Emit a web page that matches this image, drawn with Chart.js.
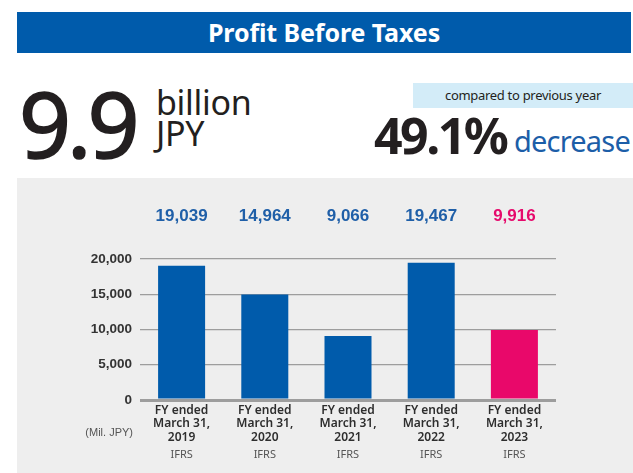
<!DOCTYPE html>
<html>
<head>
<meta charset="utf-8">
<script src="https://cdn.jsdelivr.net/npm/chart.js@4"></script>
<style>
  html, body { margin: 0; padding: 0; background: #ffffff; }
  body { width: 633px; height: 473px; position: relative; overflow: hidden; font-family: "Noto Sans", "Open Sans", sans-serif; }
  .banner { position: absolute; left: 17px; top: 12px; width: 614px; height: 41px; background: #005bab; color: #fff;
            font-weight: 700; font-size: 25px; line-height: 41px; text-align: center; letter-spacing: -0.1px; }
  .big { position: absolute; left: 19px; top: 58px; font-size: 91px; font-weight: 400; line-height: 130px; color: #231f20;
         letter-spacing: -4px; -webkit-text-stroke: 1.6px #231f20; }
  .unit { position: absolute; left: 156px; top: 87px; font-size: 34px; line-height: 31px; color: #231f20; letter-spacing: -0.3px; }
  .cmpbox { position: absolute; left: 413px; top: 83px; width: 220px; height: 25px; background: #d3ecf8; color: #231f20;
            font-size: 13px; line-height: 25px; text-align: center; letter-spacing: -0.3px; }
  .pct { position: absolute; left: 374px; top: 100px; font-size: 50px; font-weight: 700; line-height: 70px; color: #231f20; letter-spacing: -2.5px; }
  .dec { position: absolute; left: 514px; top: 116px; font-size: 29px; line-height: 50px; color: #1c5ea8; letter-spacing: -0.8px; }
  .panel { position: absolute; left: 17px; top: 178px; width: 616px; height: 295px; background: #eeeeee; }
  #wrap { position: absolute; left: 0; top: 0; width: 633px; height: 473px; }
</style>
</head>
<body>
<div class="banner">Profit Before Taxes</div>
<div class="big">9.9</div>
<div class="unit">billion<br>JPY</div>
<div class="cmpbox">compared to previous year</div>
<div class="pct">49.1%</div>
<div class="dec">decrease</div>
<div class="panel"></div>
<div id="wrap"><canvas id="c" width="633" height="473"></canvas></div>
<script>
// Fiscal years and profit before taxes (millions of yen)
const years = ["2019", "2020", "2021", "2022", "2023"];
const profitBeforeTaxes = [19039, 14964, 9066, 19467, 9916];
const standards = ["IFRS", "IFRS", "IFRS", "IFRS", "IFRS"];
const yTicks = [0, 5000, 10000, 15000, 20000];

const BLUE = "#005bab";
const PINK = "#e9086a";
const LABEL_BLUE = "#1f5fa8";
const LABEL_PINK = "#e60a6c";

const categoryLabels = years.map(y => ["FY ended", "March 31,", y]);
const barColors = profitBeforeTaxes.map((_, i) => i === profitBeforeTaxes.length - 1 ? PINK : BLUE);
const valueColors = profitBeforeTaxes.map((_, i) => i === profitBeforeTaxes.length - 1 ? LABEL_PINK : LABEL_BLUE);

const fmt = v => v.toLocaleString("en-US");

// Value figures above the plot, the accounting standard under each year, and the unit note
const annotations = {
  id: "annotations",
  afterDraw(chart) {
    const ctx = chart.ctx;
    const area = chart.chartArea;
    const meta = chart.getDatasetMeta(0);
    const xScale = chart.scales.x;
    ctx.save();
    ctx.textAlign = "center";
    ctx.textBaseline = "middle";
    ctx.font = "bold 17px 'Liberation Sans', Arial, sans-serif";
    meta.data.forEach((bar, i) => {
      ctx.fillStyle = valueColors[i];
      ctx.fillText(fmt(profitBeforeTaxes[i]), bar.x, area.top - 43);
    });
    ctx.font = "11px 'Noto Sans', sans-serif";
    ctx.fillStyle = "#555555";
    standards.forEach((s, i) => {
      ctx.fillText(s, xScale.getPixelForValue(i), area.bottom + 55);
    });
    ctx.textAlign = "right";
    ctx.font = "11px 'Liberation Sans', Arial, sans-serif";
    ctx.fillText("(Mil. JPY)", area.left - 7, area.bottom + 33);
    ctx.restore();
  }
};

new Chart(document.getElementById("c"), {
  type: "bar",
  data: {
    labels: categoryLabels,
    datasets: [{
      data: profitBeforeTaxes,
      backgroundColor: barColors,
      borderWidth: 0,
      categoryPercentage: 1,
      barPercentage: 0.565
    }]
  },
  options: {
    responsive: false,
    animation: false,
    devicePixelRatio: 1,
    layout: { padding: { top: 259, right: 77, bottom: 0, left: 0 } },
    plugins: { legend: { display: false }, tooltip: { enabled: false } },
    scales: {
      x: {
        grid: { display: false, drawTicks: false },
        border: { display: false },
        ticks: {
          color: "#2e2e2e",
          padding: 4,
          maxRotation: 0,
          autoSkip: false,
          font: { family: "'Noto Sans', sans-serif", size: 12, weight: "600", lineHeight: 1.11 }
        },
        afterFit(scale) { scale.height = 73; }
      },
      y: {
        min: 0,
        max: 20000,
        afterBuildTicks(scale) { scale.ticks = yTicks.map(v => ({ value: v })); },
        grid: {
          drawTicks: false,
          color: "#9d9d9d",
          lineWidth: c => (c.tick && c.tick.value === 0 ? 3 : 1.2)
        },
        border: { display: false },
        ticks: {
          color: "#333333",
          padding: 8,
          font: { family: "'Liberation Sans', Arial, sans-serif", size: 13.5, weight: "bold" },
          callback: v => fmt(v)
        },
        afterFit(scale) { scale.width = 140; }
      }
    }
  },
  plugins: [annotations]
});
</script>
</body>
</html>
